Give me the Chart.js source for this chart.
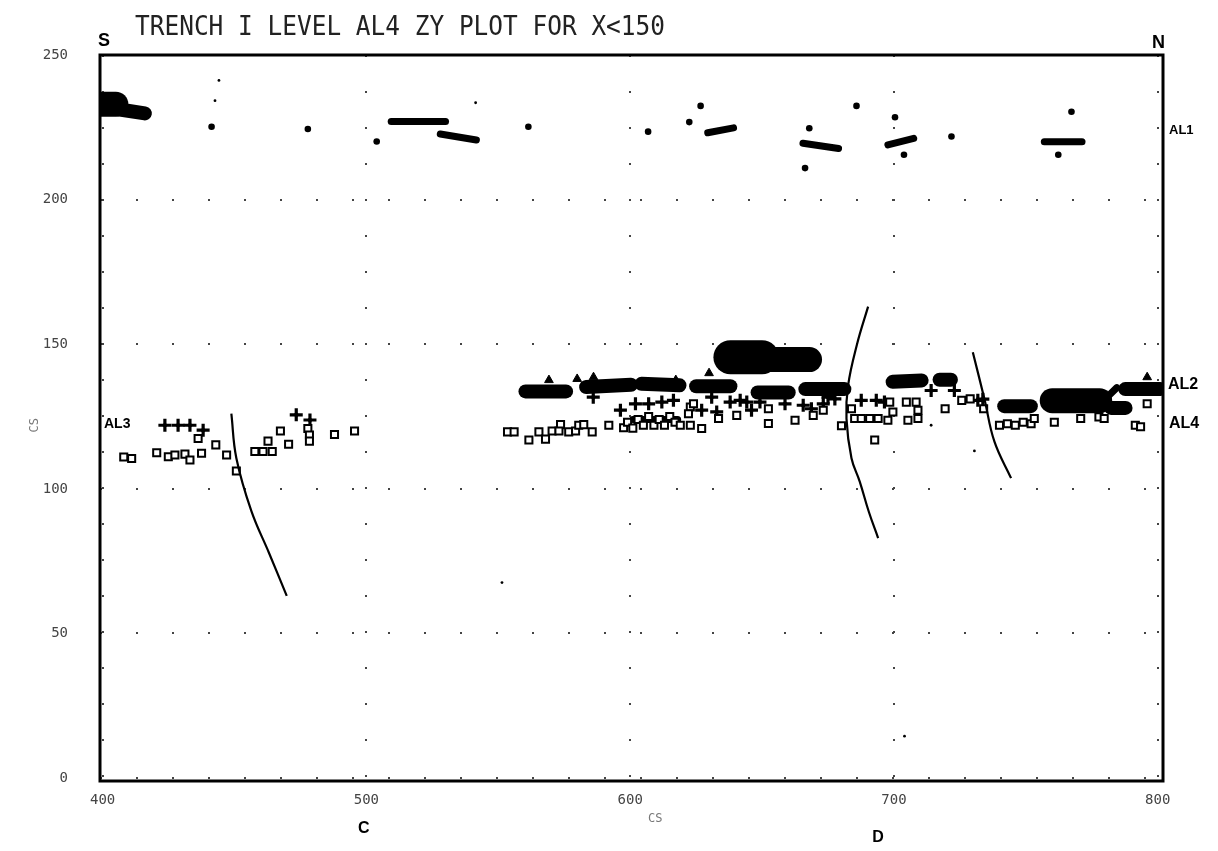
<!DOCTYPE html>
<html>
<head>
<meta charset="utf-8">
<title>Trench I level AL4 ZY plot</title>
<script src="https://cdn.jsdelivr.net/npm/chart.js@4.4.0/dist/chart.umd.min.js"></script>
<style>
    body { margin: 0; background: #fff; }
</style>
</head>
<body>
<canvas id="myChart" width="1218" height="851"></canvas>
<script>
const chartTitle = 'TRENCH I LEVEL AL4 ZY PLOT FOR X<150';
const xTicks = [400, 500, 600, 700, 800];
const yTicks = [0, 50, 100, 150, 200, 250];

// stones drawn as smudges: [x1, z1, x2, z2]
const thinStones = [
    [509.4, 227, 530, 227], [528, 222.7, 541.7, 220.6], [629.4, 223.1, 639.2, 224.8],
    [665.5, 219.5, 679, 217.7], [697.7, 218.9, 707.5, 221.2], [757, 220, 771.3, 220],
    [780, 131, 784.5, 135], [601, 124, 618, 124]
];
const mediumStones = [
    [404, 231.5, 416, 229.8],
    [560.3, 133.7, 575.7, 133.7], [583.3, 135.2, 600.3, 136], [604.3, 136.3, 618.7, 135.8],
    [625, 135.5, 638, 135.5], [648.3, 133.3, 660.1, 133.3], [666.4, 134.5, 681.2, 134.5],
    [699.5, 137, 710.5, 137.5], [717.3, 137.7, 721.6, 137.7], [741.8, 128.6, 751.9, 128.6],
    [782.3, 128, 787.8, 128], [787.7, 134.5, 801, 134.5]
];
const largeStones = [
    [399, 233, 405, 233], [650, 144.7, 668, 144.7], [760, 130.5, 778, 130.5]
];
const hugeStones = [
    [638, 145.5, 650, 145.5]
];

// single finds
const pebbles = [
    [441.3, 225.2], [477.8, 224.4], [503.9, 220.1], [561.4, 225.2], [606.8, 223.5],
    [622.4, 226.8], [626.7, 232.4], [667.9, 224.7], [685.8, 232.4], [700.4, 228.5],
    [703.8, 215.5], [721.8, 221.8], [767.3, 230.4], [762.3, 215.5], [666.3, 210.9]
];
const specks = [
    [444.1, 241.2], [442.6, 234.2], [541.4, 233.5], [714.1, 122], [730.5, 113.1],
    [551.4, 67.6], [704, 14.5]
];
const spikes = [
    [569.2, 137.6], [579.9, 138], [586.1, 138.6], [617.3, 137.6], [629.9, 140], [796, 138.6]
];

const al3Crosses = [
    [423.6, 122], [428.6, 122], [433.1, 122], [438.1, 120.3], [473.4, 125.6], [478.6, 123.8],
    [586, 131.7], [596.3, 127.2], [602, 129.4], [607, 129.4], [612, 130], [616.4, 130.6],
    [627.1, 127.2], [630.9, 131.7], [632.8, 126.6], [637.9, 130], [641.7, 130.6], [644.2, 130],
    [646, 127.2], [649.2, 130], [658.7, 129.4], [665.6, 128.9], [668.7, 127.7], [673.2, 129.4],
    [675, 131.7], [677.6, 131.1], [687.6, 130.6], [693.3, 130.6], [696.4, 130], [714.1, 134],
    [722.9, 134], [731.8, 130.6], [733.7, 131]
];

const al4Squares = [
    [408, 111], [411, 110.5], [420.5, 112.5], [424.9, 111.1], [427.4, 111.7], [431.2, 112],
    [433.1, 110], [437.5, 112.3], [436.2, 117.4], [442.9, 115.2], [447, 111.7], [450.7, 106.2],
    [457.7, 112.9], [460.8, 112.9], [464.3, 112.9], [462.7, 116.5], [467.4, 120], [470.5, 115.4],
    [477.8, 120.9], [478.4, 118.6], [478.4, 116.5], [487.9, 118.8], [495.5, 120],
    [553.5, 119.7], [556, 119.7], [561.6, 116.9], [565.4, 119.7], [567.9, 117.2], [570.4, 120],
    [573.6, 122.2], [573, 120], [576.7, 119.7], [579.3, 120], [580.5, 122], [582.4, 122.2],
    [585.6, 119.7], [591.9, 122], [597.5, 121.1],
    [599, 123], [601, 121], [603, 124], [605, 122], [607, 125], [609, 122], [611, 124],
    [613, 122], [615, 125], [617, 123], [619, 122], [622.8, 122], [622.8, 128.3], [622.1, 126],
    [624, 129.4], [627.1, 120.9], [633.5, 124.3], [640.4, 125.4], [652.4, 127.7], [652.4, 122.6],
    [662.5, 123.7], [669.4, 125.4], [673.2, 127.2], [680.1, 121.8], [692.7, 116.9],
    [683.9, 127.7], [685.1, 124.3], [687.6, 124.3], [690.8, 124.3], [694, 124.3], [697.7, 123.7],
    [699.6, 126.6], [698.4, 130], [704.7, 130], [708.4, 130], [709.1, 127.2], [709.1, 124.3],
    [705.3, 123.7], [719.4, 127.7], [725.7, 130.6], [728.9, 131.1], [734, 127.7],
    [740, 122], [743, 122.5], [746, 122], [749, 123], [752, 122.5], [753.2, 124.3],
    [760.8, 123], [770.8, 124.3], [777.7, 124.9], [779.7, 124.3], [791.5, 122], [793.5, 121.5],
    [796, 129.4]
];

// section lines
const cutC = [[448.8, 126], [450.7, 110.6], [456.4, 92.3], [463, 78], [469.8, 63]];
const cutD1 = [[690.2, 163], [686, 150], [682.6, 135.7], [682, 124.3], [683.9, 110.6],
    [687, 102.6], [690.5, 92], [694, 83]];
const cutD2 = [[729.9, 147.2], [734.3, 131.1], [738.1, 116.3], [744.4, 103.7]];

const toXY = list => list.map(([x, y]) => ({ x, y }));

function stoneSets(list, width) {
    return list.map(s => ({
        data: [{ x: s[0], y: s[1] }, { x: s[2], y: s[3] }],
        showLine: true,
        borderColor: '#000',
        borderWidth: width,
        borderCapStyle: 'round',
        pointRadius: 0,
        order: 10
    }));
}

function lineSet(list) {
    return {
        data: toXY(list),
        showLine: true,
        tension: 0.4,
        borderColor: '#000',
        borderWidth: 2.2,
        pointRadius: 0,
        order: 0
    };
}

const datasets = [
    lineSet(cutC), lineSet(cutD1), lineSet(cutD2),
    {
        label: 'AL4', data: toXY(al4Squares), pointStyle: 'rect', pointRadius: 5,
        backgroundColor: '#fff', borderColor: '#000', borderWidth: 2, order: 1
    },
    {
        label: 'AL3', data: toXY(al3Crosses), pointStyle: 'cross', pointRadius: 6.5,
        borderColor: '#000', borderWidth: 3.2, order: 2
    },
    {
        data: toXY(al3Crosses), pointStyle: 'rectRot', pointRadius: 3,
        backgroundColor: '#000', borderColor: '#000', borderWidth: 0, order: 2
    },
    {
        data: toXY(spikes), pointStyle: 'triangle', pointRadius: 5,
        backgroundColor: '#000', borderColor: '#000', borderWidth: 1, order: 3
    },
    {
        data: toXY(pebbles), pointStyle: 'circle', pointRadius: 3.3,
        backgroundColor: '#000', borderColor: '#000', borderWidth: 0, order: 3
    },
    {
        data: toXY(specks), pointStyle: 'circle', pointRadius: 1.4,
        backgroundColor: '#000', borderColor: '#000', borderWidth: 0, order: 3
    },
    ...stoneSets(thinStones, 7),
    ...stoneSets(mediumStones, 14),
    ...stoneSets(largeStones, 25),
    ...stoneSets(hugeStones, 34)
];

const annotations = {
    id: 'annotations',
    afterDraw(chart) {
        const { ctx, chartArea: a, scales: { x, y } } = chart;
        ctx.save();

        // frame
        ctx.strokeStyle = '#000';
        ctx.lineWidth = 3;
        ctx.strokeRect(a.left, a.top, a.right - a.left, a.bottom - a.top);

        // title
        ctx.fillStyle = '#222';
        ctx.font = '26px "DejaVu Sans Mono"';
        ctx.textAlign = 'left';
        ctx.textBaseline = 'alphabetic';
        const w = ctx.measureText(chartTitle).width;
        ctx.save();
        ctx.translate(a.left + 35, 35);
        ctx.scale(530 / w, 1);
        ctx.fillText(chartTitle, 0, 0);
        ctx.restore();

        ctx.fillStyle = '#000';
        ctx.textBaseline = 'middle';
        ctx.font = 'bold 18px "Liberation Sans"';
        ctx.fillText('S', a.left - 2, a.top - 14);
        ctx.textAlign = 'right';
        ctx.fillText('N', a.right + 2, a.top - 12);

        ctx.textAlign = 'left';
        ctx.font = 'bold 13px "Liberation Sans"';
        ctx.fillText('AL1', a.right + 6, y.getPixelForValue(224));
        ctx.font = 'bold 16px "Liberation Sans"';
        ctx.fillText('AL2', a.right + 5, y.getPixelForValue(136));
        ctx.fillText('AL4', a.right + 6, y.getPixelForValue(122.5));
        ctx.font = 'bold 14px "Liberation Sans"';
        ctx.fillText('AL3', a.left + 4, y.getPixelForValue(122.5));

        ctx.textAlign = 'center';
        ctx.font = 'bold 16px "Liberation Sans"';
        ctx.fillText('C', x.getPixelForValue(499), a.bottom + 48);
        ctx.fillText('D', x.getPixelForValue(694), a.bottom + 57);

        ctx.fillStyle = '#777';
        ctx.font = '12px "DejaVu Sans Mono"';
        ctx.fillText('CS', x.getPixelForValue(609.5), a.bottom + 38);
        ctx.translate(35, y.getPixelForValue(122));
        ctx.rotate(-Math.PI / 2);
        ctx.fillText('CS', 0, 0);
        ctx.restore();
    }
};

const tickFont = { family: 'DejaVu Sans Mono', size: 14 };

new Chart(document.getElementById('myChart'), {
    type: 'scatter',
    data: { datasets },
    options: {
        responsive: false,
        animation: false,
        events: [],
        layout: { padding: { top: 55, right: 55, bottom: 0, left: 0 } },
        plugins: {
            legend: { display: false },
            tooltip: { enabled: false }
        },
        scales: {
            x: {
                type: 'linear',
                min: 399,
                max: 802,
                afterBuildTicks: s => { s.ticks = xTicks.map(v => ({ value: v })); },
                afterFit: s => { s.height = 70; },
                grid: { color: '#444', lineWidth: 2, drawTicks: false },
                border: { display: false, dash: [2, 34] },
                ticks: { padding: 11, color: '#444', font: tickFont, maxRotation: 0 }
            },
            y: {
                type: 'linear',
                min: -1,
                max: 250,
                afterBuildTicks: s => { s.ticks = yTicks.map(v => ({ value: v })); },
                afterFit: s => { s.width = 100; },
                grid: { color: '#444', lineWidth: 2, drawTicks: false },
                border: { display: false, dash: [2, 34] },
                ticks: { padding: 32, color: '#444', font: tickFont }
            }
        }
    }
    ,
    plugins: [annotations]
});
</script>
</body>
</html>
